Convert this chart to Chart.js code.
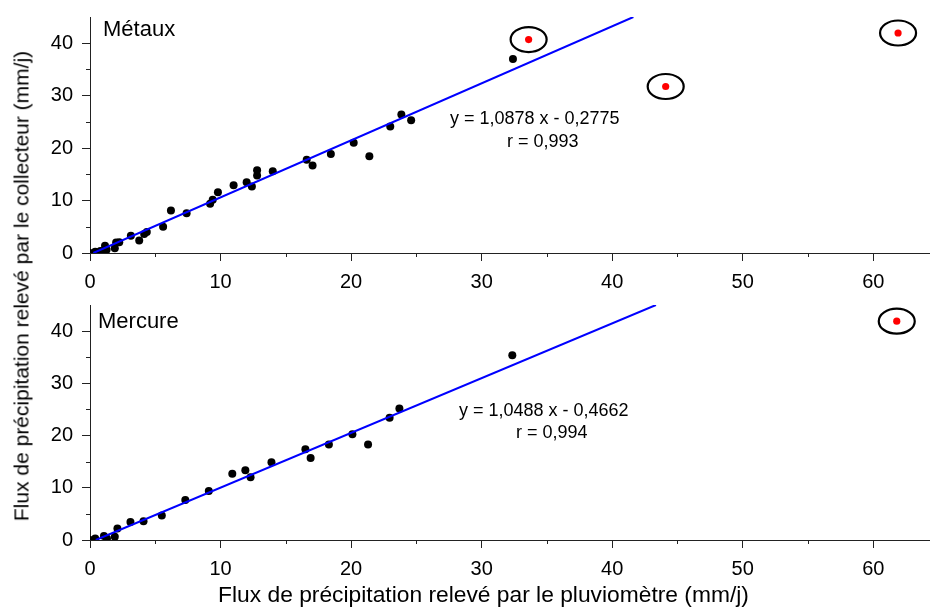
<!DOCTYPE html>
<html lang="fr">
<head>
<meta charset="utf-8">
<title>Flux de précipitation : collecteur / pluviomètre</title>
<script src="https://cdn.jsdelivr.net/npm/chart.js@4.4.1/dist/chart.umd.min.js"></script>
<style>
  html, body { margin: 0; padding: 0; background: #fff; }
  #wrap { position: relative; width: 933px; height: 607px; overflow: hidden;
          font-family: Arial, "Liberation Sans", sans-serif; color: #000; }
  canvas { position: absolute; left: 0; }
  #c1 { top: 0; }
  #c2 { top: 290px; }
  .title { position: absolute; white-space: nowrap; line-height: 1; }
  #xTitle { left: 483.5px; top: 583px; font-size: 22.8px; transform: translateX(-50%); }
  #yTitle { left: 20.5px; top: 286px; font-size: 21px; transform: translate(-50%, -50%) rotate(-90deg); }
</style>
</head>
<body>
<div id="wrap">
  <canvas id="c1" width="933" height="290"></canvas>
  <canvas id="c2" width="933" height="317"></canvas>
  <div class="title" id="yTitle">Flux de précipitation relevé par le collecteur (mm/j)</div>
  <div class="title" id="xTitle">Flux de précipitation relevé par le pluviomètre (mm/j)</div>
</div>
<script>
"use strict";

// Métaux : flux collecteur (y) contre flux pluviomètre (x), mm/j
const metauxX = [0, 0.4, 0.8, 1.15, 1.27, 1.9, 2.0, 2.24, 3.13, 3.77, 4.15, 4.35, 5.6, 6.2, 7.4,
                 9.2, 9.4, 9.8, 11.0, 12.0, 12.4, 12.8, 12.8, 14.0, 16.6, 17.05, 18.45, 20.2,
                 21.4, 23.0, 23.85, 24.6, 32.4];
const metauxY = [0, 0.25, 0.4, 1.4, 0.6, 0.9, 2.0, 2.05, 3.3, 2.4, 3.6, 4.0, 5.0, 8.1, 7.6,
                 9.4, 10.15, 11.6, 12.9, 13.5, 12.7, 15.8, 14.8, 15.6, 17.8, 16.7, 18.9, 21.0,
                 18.45, 24.1, 26.4, 25.3, 37.0];
// points écartés de la régression (entourés)
const metauxOutX = [33.6, 44.1, 61.9];
const metauxOutY = [40.7, 31.75, 41.95];
const metauxFit = { a: 1.0878, b: -0.2775, r: 0.993 };

// Mercure
const mercureX = [0, 0.4, 1.07, 1.3, 1.9, 2.1, 3.1, 4.1, 5.5, 7.3, 9.1, 10.9, 11.9, 12.3, 13.9,
                  16.5, 16.9, 18.3, 20.1, 21.3, 22.95, 23.7, 32.35];
const mercureY = [0, 0.3, 0.77, 0.3, 0.6, 2.2, 3.45, 3.6, 4.7, 7.65, 9.4, 12.7, 13.35, 12.0, 14.9,
                  17.4, 15.7, 18.3, 20.25, 18.3, 23.4, 25.2, 35.4];
const mercureOutX = [61.8];
const mercureOutY = [41.9];
const mercureFit = { a: 1.0488, b: -0.4662, r: 0.994 };

const xMax = 64.27;
const yMax = 45;
const tickStep = 5;
const labelStep = 10;

const axisColor = "#222";
const fontFamily = "Arial, 'Liberation Sans', sans-serif";

const zip = (xs, ys) => xs.map((x, i) => ({ x: x, y: ys[i] }));
const frNum = (v, d) => v.toFixed(d).replace(".", ",");

// droite de régression entre y = 0 et le haut de l'axe
function fitLine(fit) {
  return [
    { x: (0 - fit.b) / fit.a, y: 0 },
    { x: (yMax - fit.b) / fit.a, y: yMax }
  ];
}

const minorTicks = {
  id: "minorTicks",
  afterDraw(chart) {
    const { ctx, scales: { x, y } } = chart;
    ctx.save();
    ctx.strokeStyle = axisColor;
    ctx.lineWidth = 1;
    ctx.beginPath();
    x.ticks.forEach(t => {
      if (t.value % labelStep === 0) return;
      const px = Math.round(x.getPixelForValue(t.value)) + 0.5;
      ctx.moveTo(px, y.bottom);
      ctx.lineTo(px, y.bottom + 4);
    });
    y.ticks.forEach(t => {
      if (t.value % labelStep === 0 || t.value >= yMax) return;
      const py = Math.round(y.getPixelForValue(t.value)) + 0.5;
      ctx.moveTo(x.left, py);
      ctx.lineTo(x.left - 4, py);
    });
    ctx.stroke();
    ctx.restore();
  }
};

const rings = {
  id: "rings",
  afterDatasetsDraw(chart) {
    const ctx = chart.ctx;
    ctx.save();
    ctx.strokeStyle = "#000";
    ctx.lineWidth = 2.2;
    chart.data.datasets.forEach((ds, i) => {
      if (!ds.ringed) return;
      chart.getDatasetMeta(i).data.forEach(pt => {
        ctx.beginPath();
        ctx.ellipse(pt.x, pt.y, 18, 12.5, 0, 0, Math.PI * 2);
        ctx.stroke();
      });
    });
    ctx.restore();
  }
};

const panelText = {
  id: "panelText",
  afterDraw(chart, args, o) {
    const ctx = chart.ctx;
    ctx.save();
    ctx.fillStyle = "#000";
    ctx.textAlign = "left";
    ctx.textBaseline = "alphabetic";
    ctx.font = "22px " + fontFamily;
    ctx.fillText(o.name, o.nameX, o.nameY);
    ctx.font = "18px " + fontFamily;
    ctx.fillText("y = " + frNum(o.fit.a, 4) + " x - " + frNum(-o.fit.b, 4), o.eqX, o.eqY);
    ctx.fillText("r = " + frNum(o.fit.r, 3), o.rX, o.rY);
    ctx.restore();
  }
};

function buildChart(id, cfg) {
  const canvas = document.getElementById(id);
  const h = canvas.height;
  const majorColor = c => (c.tick && c.tick.value % labelStep === 0) ? axisColor : "rgba(0,0,0,0)";
  const tickLabel = v => v % labelStep === 0 ? v : "";

  return new Chart(canvas, {
    type: "scatter",
    data: {
      datasets: [
        { type: "line", data: fitLine(cfg.fit), borderColor: "#0000ff", borderWidth: 2,
          pointRadius: 0, fill: false, order: 0 },
        { data: zip(cfg.outX, cfg.outY), backgroundColor: "#ff0000", pointRadius: 3.6,
          pointBorderWidth: 0, ringed: true, order: 1 },
        { data: zip(cfg.xs, cfg.ys), backgroundColor: "#000", pointRadius: 4,
          pointBorderWidth: 0, order: 2 }
      ]
    },
    options: {
      responsive: false,
      animation: false,
      events: [],
      layout: { padding: { top: cfg.top, right: 1, left: 0, bottom: 0 } },
      plugins: {
        legend: { display: false },
        tooltip: { enabled: false },
        panelText: cfg.text
      },
      scales: {
        x: {
          type: "linear", min: 0, max: xMax,
          border: { color: axisColor, width: 1 },
          grid: { drawOnChartArea: false, tickLength: 8, tickColor: majorColor, tickWidth: 1 },
          ticks: { stepSize: tickStep, includeBounds: false, autoSkip: false, maxRotation: 0,
                   color: "#000", padding: 9, font: { size: 20, family: fontFamily },
                   callback: tickLabel },
          afterFit: s => { s.height = h - cfg.bottom; s.paddingLeft = 0; s.paddingRight = 0; }
        },
        y: {
          type: "linear", min: 0, max: yMax,
          border: { color: axisColor, width: 1 },
          grid: { drawOnChartArea: false, tickLength: 8, tickColor: majorColor, tickWidth: 1 },
          ticks: { stepSize: tickStep, autoSkip: false, color: "#000", padding: 9,
                   font: { size: 20, family: fontFamily }, callback: tickLabel },
          afterFit: s => { s.width = 90; s.paddingTop = 0; s.paddingBottom = 0; }
        }
      }
    },
    plugins: [minorTicks, rings, panelText]
  });
}

buildChart("c1", {
  xs: metauxX, ys: metauxY, outX: metauxOutX, outY: metauxOutY, fit: metauxFit,
  top: 17, bottom: 253,
  text: { name: "Métaux", nameX: 103, nameY: 36, fit: metauxFit,
          eqX: 450, eqY: 124, rX: 507, rY: 147 }
});

buildChart("c2", {
  xs: mercureX, ys: mercureY, outX: mercureOutX, outY: mercureOutY, fit: mercureFit,
  top: 15, bottom: 250,
  text: { name: "Mercure", nameX: 98, nameY: 38, fit: mercureFit,
          eqX: 459, eqY: 126, rX: 516, rY: 148 }
});
</script>
</body>
</html>
